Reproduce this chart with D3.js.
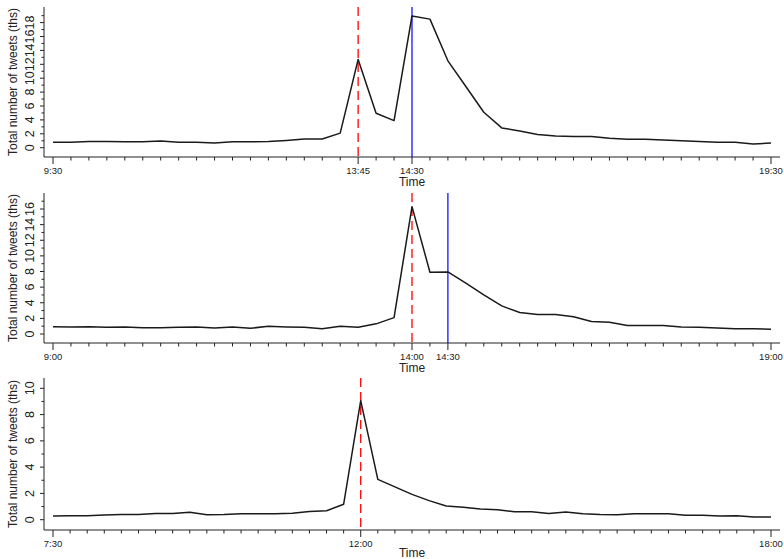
<!DOCTYPE html>
<html>
<head>
<meta charset="utf-8">
<script src="https://cdn.jsdelivr.net/npm/d3@7"></script>
<style>
  body { margin: 0; background: #fff; }
  text { font-family: "Liberation Sans", Arial, sans-serif; fill: #222; }
</style>
</head>
<body>
<div id="chart"></div>
<script>
// tweets per 15 minutes (thousands), one array per event
var start1 = "9:30", end1 = "19:30"
var values1 = [0.77, 0.77, 0.9, 0.9, 0.85, 0.85, 0.95, 0.8, 0.77, 0.67,
               0.85, 0.85, 0.9, 1.05, 1.25, 1.25, 2.1, 12.7, 4.95, 3.9,
               18.95, 18.5, 12.5, 8.8, 5.1, 2.85, 2.4, 1.9, 1.7, 1.6,
               1.6, 1.35, 1.2, 1.2, 1.1, 1.0, 0.9, 0.8, 0.77, 0.53, 0.67]
var ticks1 = ["9:30", "13:45", "14:30", "19:30"]
var red1 = "13:45", blue1 = "14:30"

var start2 = "9:00", end2 = "19:00"
var values2 = [0.94, 0.9, 0.94, 0.85, 0.9, 0.8, 0.8, 0.85, 0.9, 0.77,
               0.9, 0.73, 1.0, 0.9, 0.85, 0.68, 1.0, 0.85, 1.3, 2.1,
               16.3, 7.9, 7.95, 6.5, 5.0, 3.6, 2.75, 2.5, 2.5, 2.2,
               1.6, 1.5, 1.1, 1.1, 1.1, 0.9, 0.85, 0.77, 0.68, 0.68, 0.6]
var ticks2 = ["9:00", "14:00", "14:30", "19:00"]
var red2 = "14:00", blue2 = "14:30"

var start3 = "7:30", end3 = "18:00"
var values3 = [0.28, 0.3, 0.3, 0.36, 0.4, 0.4, 0.48, 0.48, 0.56, 0.38,
               0.4, 0.46, 0.46, 0.46, 0.5, 0.63, 0.68, 1.17, 9.06, 3.07,
               2.5, 1.93, 1.45, 1.04, 0.94, 0.81, 0.76, 0.61, 0.61, 0.48,
               0.58, 0.46, 0.4, 0.38, 0.46, 0.46, 0.46, 0.33, 0.33, 0.28,
               0.3, 0.2, 0.2]
var ticks3 = ["7:30", "12:00", "18:00"]
var red3 = "12:00", blue3 = null

var svg = d3.select("#chart")
    .append("svg")
    .attr("width", 784)
    .attr("height", 559)

function mins(s) {
    var p = s.split(":")
    return +p[0] * 60 + +p[1]
}

function drawPanel(o) {
    var g = svg.append("g")
    var t0 = mins(o.start), t1 = mins(o.end)

    var x = d3.scaleLinear().domain([t0, t1]).range([53, 771])
    var y = d3.scaleLinear().domain([0, o.yRef]).range([o.y0, o.yRefPx])

    var left = 44, right = 780, top = o.top, bottom = o.bottom

    // axis lines (L shaped frame)
    g.append("line").attr("x1", left).attr("x2", left).attr("y1", top).attr("y2", bottom)
        .attr("stroke", "#222").attr("stroke-width", 1)
    g.append("line").attr("x1", left).attr("x2", right).attr("y1", bottom).attr("y2", bottom)
        .attr("stroke", "#222").attr("stroke-width", 1)

    // x ticks every 15 min
    var xt = d3.range(t0, t1 + 1, 15)
    g.selectAll(".xt").data(xt).enter().append("line")
        .attr("x1", function(d) { return x(d) }).attr("x2", function(d) { return x(d) })
        .attr("y1", bottom)
        .attr("y2", function(d) { return bottom + (o.ticks.map(mins).indexOf(d) >= 0 ? 7 : 3.5) })
        .attr("stroke", "#222").attr("stroke-width", 1)
    g.selectAll(".xl").data(o.ticks).enter().append("text")
        .attr("x", function(d) { return x(mins(d)) })
        .attr("y", bottom + 17)
        .attr("text-anchor", "middle")
        .style("font-size", "9.5px")
        .text(function(d) { return d })
    g.append("text")
        .attr("x", (left + right) / 2)
        .attr("y", bottom + o.titleGap)
        .attr("text-anchor", "middle")
        .style("font-size", "12px")
        .text("Time")

    // y ticks
    var yt = d3.range(0, o.yMaxTick + 1)
    g.selectAll(".yt").data(yt).enter().append("line")
        .attr("x1", left)
        .attr("x2", function(d) { return left - (d % 2 == 0 ? 4 : 2.5) })
        .attr("y1", function(d) { return y(d) }).attr("y2", function(d) { return y(d) })
        .attr("stroke", "#222").attr("stroke-width", 1)
    g.selectAll(".yl").data(yt.filter(function(d) { return d % 2 == 0 && d <= o.yMaxLabel })).enter().append("text")
        .attr("transform", function(d) { return "translate(34," + y(d) + ") rotate(-90)" })
        .attr("text-anchor", "middle")
        .style("font-size", "12.5px")
        .text(function(d) { return d })
    g.append("text")
        .attr("transform", "translate(17," + ((top + bottom) / 2) + ") rotate(-90)")
        .attr("text-anchor", "middle")
        .style("font-size", "12px")
        .text("Total number of tweets (ths)")

    // event lines
    g.append("line")
        .attr("x1", x(mins(o.red))).attr("x2", x(mins(o.red)))
        .attr("y1", top).attr("y2", bottom)
        .attr("stroke", "#f00").attr("stroke-width", 1.3)
        .attr("stroke-dasharray", "9,5")
    if (o.blue) {
        g.append("line")
            .attr("x1", x(mins(o.blue))).attr("x2", x(mins(o.blue)))
            .attr("y1", top).attr("y2", bottom)
            .attr("stroke", "#00f").attr("stroke-width", 1.2)
    }

    var line = d3.line()
        .x(function(d, i) { return x(t0 + i * 15) })
        .y(function(d) { return y(d) })
    g.append("path")
        .datum(o.values)
        .attr("d", line)
        .attr("fill", "none")
        .attr("stroke", "#1a1a1a")
        .attr("stroke-width", 1.5)
        .attr("stroke-linejoin", "round")
}

drawPanel({start: start1, end: end1, values: values1, ticks: ticks1, red: red1, blue: blue1, titleGap: 29,
    top: 7, bottom: 157, y0: 147.7, yRef: 18, yRefPx: 22.6, yMaxTick: 19, yMaxLabel: 18})
drawPanel({start: start2, end: end2, values: values2, ticks: ticks2, red: red2, blue: blue2, titleGap: 29,
    top: 193, bottom: 343, y0: 334, yRef: 16, yRefPx: 209, yMaxTick: 17, yMaxLabel: 16})
drawPanel({start: start3, end: end3, values: values3, ticks: ticks3, red: red3, blue: blue3, titleGap: 26.5,
    top: 378, bottom: 530, y0: 519.7, yRef: 10, yRefPx: 388.3, yMaxTick: 10, yMaxLabel: 10})
</script>
</body>
</html>
